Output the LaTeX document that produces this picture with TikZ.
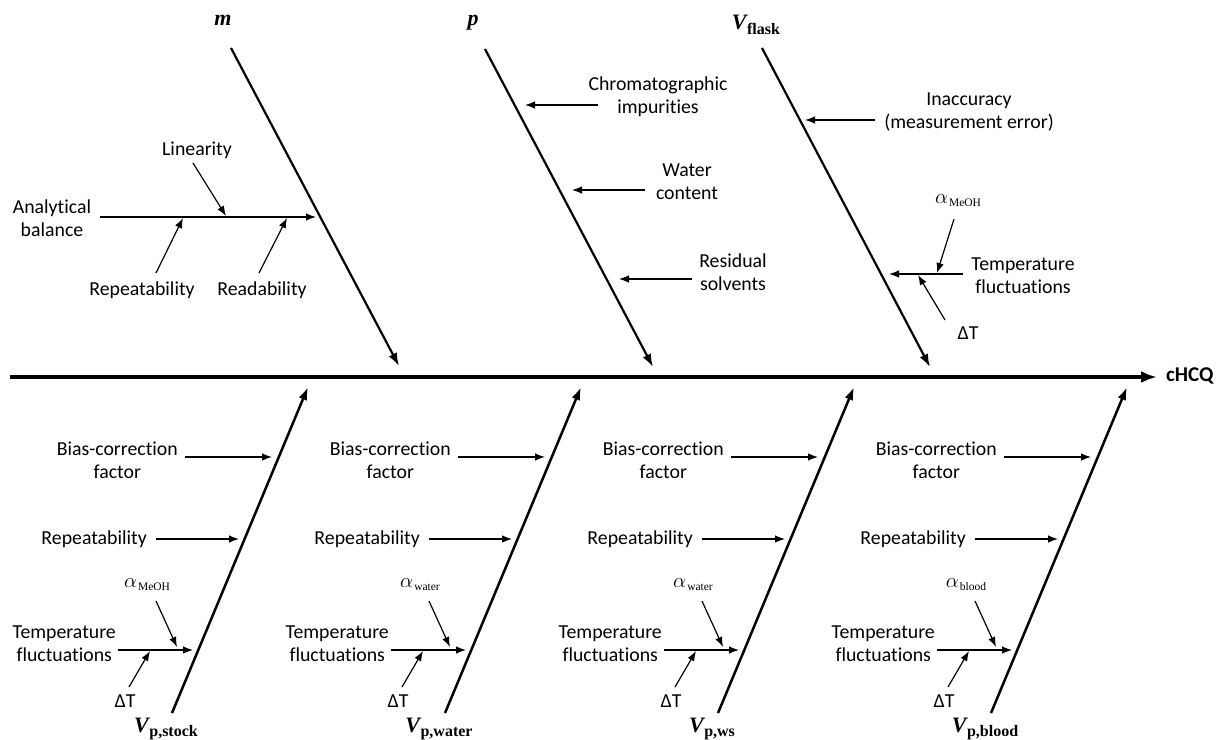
\documentclass[tikz,border=0pt]{standalone}
\usepackage{fontspec}
\setmainfont{Carlito}[Ligatures=NoCommon]
\newfontfamily\serifsub{Liberation Serif}
\usetikzlibrary{arrows.meta,calc}
\newcommand\bivar[1]{{\serifsub\bfseries\itshape #1}}
\newcommand\vsub[1]{\bivar{V}\kern0.5pt\raisebox{-4.5pt}{\fontsize{16}{16}\selectfont\serifsub\bfseries #1}}
\newcommand\alab[1]{$\alpha$\kern1pt\raisebox{-3pt}{\fontsize{11.5}{11.5}\selectfont\serifsub #1}}
\begin{document}
\begin{tikzpicture}[x=1pt,y=-1pt,
  txt/.style={font=\fontsize{19.8}{23}\selectfont, align=center, inner sep=0pt},
  albl/.style={font=\fontsize{21}{21}\selectfont, inner sep=0pt},
  mlab/.style={font=\fontsize{22}{22}\selectfont, inner sep=0pt},
  small/.style={line width=1.2pt, -{Latex[length=10pt,width=7.5pt]}},
  bone/.style={line width=2.2pt, -{Latex[length=13pt,width=9pt]}},
  lbone/.style={line width=2.5pt, -{Latex[length=13pt,width=9pt]}},
  spine/.style={line width=3.5pt, -{Latex[length=16pt,width=12pt]}}]
\useasboundingbox (0,0) rectangle (1220,739);

% spine
\coordinate (s0) at (10,377);
\coordinate (s1) at (1157,377);
\draw[spine] (s0) -- (s1);
\node[anchor=west, inner sep=0pt, font=\fontsize{21}{21}\selectfont\bfseries] (out) at (1166,376) {cHCQ};

% ---- m ----
\node[mlab] (mlabel) at (223,20) {\bivar{m}};
\coordinate (mT) at (231,48); \coordinate (mB) at (399,366);
\draw[bone] (mT) -- (mB);
\node[txt] (ab) at (52,218.5) {Analytical\\balance};
\coordinate (abS) at (100,217); \coordinate (abE) at (316,217);
\draw[small] (abS) -- (abE);
\node[txt] (lin) at (197,150) {Linearity};
\coordinate (linS) at (193,163); \coordinate (linE) at (226,216);
\draw[small] (linS) -- (linE);
\node[txt] (rep) at (142,290) {Repeatability};
\coordinate (repS) at (156,273); \coordinate (repE) at (183,218);
\draw[small] (repS) -- (repE);
\node[txt] (read) at (262,290) {Readability};
\coordinate (readS) at (259,273); \coordinate (readE) at (287,218);
\draw[small] (readS) -- (readE);

% ---- p ----
\node[mlab] (plabel) at (473,23) {\bivar{p}};
\coordinate (pT) at (485,49); \coordinate (pB) at (653,367);
\draw[bone] (pT) -- (pB);
\node[txt] (chrom) at (658,96.5) {Chromatographic\\impurities};
\coordinate (chS) at (598,105); \coordinate (chE) at (525,105);
\draw[small] (chS) -- (chE);
\node[txt] (wat) at (687,181.5) {Water\\content};
\coordinate (waS) at (645,190); \coordinate (waE) at (572,190);
\draw[small] (waS) -- (waE);
\node[txt] (res) at (733,272) {Residual\\solvents};
\coordinate (reS) at (692,279); \coordinate (reE) at (619,279);
\draw[small] (reS) -- (reE);

% ---- V flask ----
\node[mlab] (vflabel) at (756,25) {\vsub{flask}};
\coordinate (vT) at (762,48); \coordinate (vB) at (930,367);
\draw[bone] (vT) -- (vB);
\node[txt] (inac) at (969,112) {Inaccuracy\\(measurement error)};
\coordinate (inS) at (875,120); \coordinate (inE) at (805,120);
\draw[small] (inS) -- (inE);
\node[txt] (tf) at (1023,276) {Temperature\\fluctuations};
\coordinate (tfS) at (963,274); \coordinate (tfE) at (889,274);
\draw[small] (tfS) -- (tfE);
\node[albl] (afl) at (958,201) {\alab{MeOH}};
\coordinate (aS) at (954,219); \coordinate (aE) at (937,273);
\draw[small] (aS) -- (aE);
\node[txt] (dtf) at (968,333) {ΔT};
\coordinate (dS) at (945,320); \coordinate (dE) at (918,275);
\draw[small] (dS) -- (dE);

% ---- lower bones ----
\foreach \k/\al/\vs in {0/MeOH/stock,1/water/water,2/water/ws,3/blood/blood}{
  \pgfmathsetmacro{\dx}{273*\k}
  \coordinate (lB\k) at (172+\dx,713); \coordinate (lT\k) at (308+\dx,387);
  \draw[lbone] (lB\k) -- (lT\k);
  \node[mlab] (vl\k) at (166+\dx,729) {\vsub{p,\vs}};
  \node[txt, anchor=east] (bias\k) at (178+\dx,460.5) {Bias-correction\\factor};
  \coordinate (biS\k) at (185+\dx,457); \coordinate (biE\k) at (272+\dx,457);
  \draw[small] (biS\k) -- (biE\k);
  \node[txt, anchor=east] (rp\k) at (147+\dx,539) {Repeatability};
  \coordinate (rpS\k) at (156+\dx,539); \coordinate (rpE\k) at (239+\dx,539);
  \draw[small] (rpS\k) -- (rpE\k);
  \node[txt, anchor=east] (tp\k) at (116+\dx,643.5) {Temperature\\fluctuations};
  \coordinate (tpS\k) at (118+\dx,650); \coordinate (tpE\k) at (193+\dx,650);
  \draw[small] (tpS\k) -- (tpE\k);
  \node[albl] (al\k) at (147+\dx,585) {\alab{\al}};
  \coordinate (alS\k) at (156+\dx,601); \coordinate (alE\k) at (177+\dx,647);
  \draw[small] (alS\k) -- (alE\k);
  \node[txt] (dt\k) at (125+\dx,701) {ΔT};
  \coordinate (dtS\k) at (129+\dx,687); \coordinate (dtE\k) at (150+\dx,651);
  \draw[small] (dtS\k) -- (dtE\k);
}
\end{tikzpicture}
\end{document}
